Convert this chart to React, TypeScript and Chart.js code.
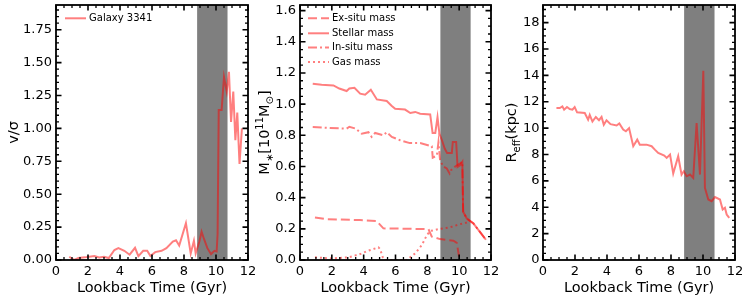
import React, { useEffect, useRef } from "react";
import { Chart, registerables } from "chart.js";
Chart.register(...registerables);

const FONT = "'DejaVu Sans', 'Liberation Sans', sans-serif";
const RED = "rgba(255,0,0,0.5)";

// ---- shared x axis ----
const X_TICKS = [0, 2, 4, 6, 8, 10, 12];
const X_TICK_LABELS = ["0", "2", "4", "6", "8", "10", "12"];
const X_MINOR_STEP = 0.5;
const X_TITLE = "Lookback Time (Gyr)";
const MERGER_BAND = [8.82, 10.72];

// ---- panel 1: v/sigma ----
const VSIG_TIME = [0.83, 1.14, 1.4, 1.8, 2.08, 2.4, 2.7, 3.0, 3.3, 3.65, 3.9, 4.27, 4.6, 4.94, 5.15, 5.45, 5.7, 5.9, 6.2, 6.6, 6.9, 7.3, 7.5, 7.7, 8.12, 8.42, 8.62, 8.73, 8.96, 9.1, 9.25, 9.46, 9.69, 9.9, 10.04, 10.1, 10.17, 10.35, 10.5, 10.67, 10.81, 10.94, 11.08, 11.21, 11.33, 11.47, 11.62];
const VSIG_VALUE = [0.025, 0.0, 0.015, 0.02, 0.025, 0.03, 0.02, 0.025, 0.015, 0.076, 0.09, 0.07, 0.04, 0.093, 0.03, 0.07, 0.07, 0.03, 0.06, 0.07, 0.09, 0.14, 0.15, 0.11, 0.28, 0.05, 0.146, 0.05, 0.14, 0.215, 0.16, 0.09, 0.045, 0.07, 0.065, 0.2, 1.14, 1.14, 1.39, 1.28, 1.43, 1.05, 1.28, 0.91, 1.12, 0.73, 1.0];
const VSIG_TICKS = [0, 0.25, 0.5, 0.75, 1.0, 1.25, 1.5, 1.75];
const VSIG_TICK_LABELS = ["0.00", "0.25", "0.50", "0.75", "1.00", "1.25", "1.50", "1.75"];
const VSIG_MAX = 1.938;
const VSIG_MINOR_STEP = 0.05;

// ---- panel 2: masses ----
const STELLAR_TIME = [0.8, 1.36, 2.1, 2.47, 2.93, 3.1, 3.42, 3.78, 4.09, 4.45, 4.83, 5.45, 5.75, 5.98, 6.6, 6.93, 7.24, 7.55, 8.18, 8.33, 8.5, 8.64, 8.76, 8.92, 9.09, 9.24, 9.54, 9.6, 9.81, 9.9, 10.06, 10.2, 10.25, 10.48, 10.9, 11.68];
const STELLAR_MASS = [1.13, 1.124, 1.12, 1.1, 1.084, 1.1, 1.105, 1.067, 1.06, 1.092, 1.03, 1.02, 0.99, 0.97, 0.965, 0.943, 0.95, 0.939, 0.934, 0.815, 0.815, 0.917, 0.81, 0.768, 0.715, 0.687, 0.687, 0.757, 0.757, 0.597, 0.608, 0.63, 0.31, 0.266, 0.234, 0.13];
const INSITU_TIME = [0.8, 1.89, 2.93, 3.1, 3.5, 3.88, 4.3, 4.5, 4.72, 5.24, 5.45, 5.77, 6.29, 6.9, 7.55, 8.28, 8.34, 8.6, 8.7, 8.8, 9.0, 9.22, 9.4, 9.48, 9.75, 10.06, 10.2, 10.25, 10.48, 10.9, 11.68];
const INSITU_MASS = [0.853, 0.847, 0.843, 0.855, 0.843, 0.81, 0.82, 0.79, 0.815, 0.8, 0.82, 0.79, 0.768, 0.75, 0.75, 0.73, 0.657, 0.67, 0.757, 0.64, 0.6, 0.587, 0.555, 0.576, 0.6, 0.62, 0.63, 0.31, 0.266, 0.234, 0.13];
const EXSITU_TIME = [0.94, 1.68, 3.77, 4.82, 5.24, 8.07, 8.28, 8.8, 9.64, 9.85, 10.03];
const EXSITU_MASS = [0.273, 0.262, 0.256, 0.25, 0.203, 0.198, 0.15, 0.134, 0.124, 0.11, 0.0];
const GAS_TIME = [0.94, 2.0, 3.04, 3.78, 4.3, 4.93, 5.03, 5.2, 5.35, 6.7, 7.24, 7.66, 7.97, 8.18, 8.8, 9.43, 10.06, 10.48, 10.6];
const GAS_MASS = [0.017, 0.01, 0.017, 0.038, 0.06, 0.081, 0.07, 0.017, 0.0, 0.0, 0.043, 0.096, 0.16, 0.186, 0.2, 0.21, 0.23, 0.24, 0.245];
const MASS_TICKS = [0, 0.2, 0.4, 0.6, 0.8, 1.0, 1.2, 1.4, 1.6];
const MASS_TICK_LABELS = ["0.0", "0.2", "0.4", "0.6", "0.8", "1.0", "1.2", "1.4", "1.6"];
const MASS_MAX = 1.636;
const MASS_MINOR_STEP = 0.05;

// ---- panel 3: effective radius ----
const REFF_TIME = [0.84, 1.05, 1.21, 1.32, 1.5, 1.67, 1.84, 1.98, 2.13, 2.61, 2.82, 2.92, 3.09, 3.3, 3.5, 3.66, 3.8, 3.97, 4.22, 4.6, 4.77, 5.01, 5.18, 5.38, 5.64, 5.89, 6.05, 6.47, 6.79, 6.99, 7.2, 7.58, 7.73, 7.94, 8.14, 8.45, 8.66, 8.8, 8.98, 9.19, 9.39, 9.6, 9.81, 10.02, 10.12, 10.33, 10.54, 10.75, 11.06, 11.23, 11.37, 11.48, 11.64];
const REFF_VALUE = [11.53, 11.53, 11.65, 11.4, 11.6, 11.45, 11.4, 11.6, 11.2, 11.15, 10.64, 11.0, 10.5, 10.85, 10.6, 10.85, 10.26, 10.6, 10.3, 10.2, 10.35, 9.89, 9.76, 10.0, 8.63, 9.13, 8.75, 8.75, 8.63, 8.37, 8.12, 7.92, 7.74, 8.0, 6.56, 7.87, 6.48, 6.73, 6.35, 6.48, 6.23, 10.39, 6.48, 14.35, 5.47, 4.59, 4.46, 4.77, 4.59, 3.83, 3.96, 3.45, 3.2];
const REFF_TICKS = [0, 2, 4, 6, 8, 10, 12, 14, 16, 18];
const REFF_TICK_LABELS = ["0", "2", "4", "6", "8", "10", "12", "14", "16", "18"];
const REFF_MAX = 19.34;
const REFF_MINOR_STEP = 0.5;

type Seg = { t: string; size: number; dy: number };
type Series = { label: string; time: number[]; value: number[]; dash: number[] };
type PanelCfg = {
  left: number; right: number;
  yMax: number; yTicks: number[]; yTickLabels: string[]; yMinor: number;
  yTitle: Seg[]; yTitleX: number;
  series: Series[]; legendX: number; legendRows: number[];
  yLabelPad: number;
};

const TITLE_SIZE = 14.5;
const SUB = 10;

const PANELS: PanelCfg[] = [
  {
    left: 56, right: 248, yMax: VSIG_MAX, yTicks: VSIG_TICKS, yTickLabels: VSIG_TICK_LABELS, yMinor: VSIG_MINOR_STEP,
    yTitle: [{ t: "v/σ", size: TITLE_SIZE, dy: 0 }], yTitleX: 13,
    series: [{ label: "Galaxy 3341", time: VSIG_TIME, value: VSIG_VALUE, dash: [] }],
    legendX: 65, legendRows: [18.3], yLabelPad: 4,
  },
  {
    left: 300, right: 491, yMax: MASS_MAX, yTicks: MASS_TICKS, yTickLabels: MASS_TICK_LABELS, yMinor: MASS_MINOR_STEP,
    yTitle: [
      { t: "M", size: TITLE_SIZE, dy: 0 }, { t: "∗", size: SUB, dy: 3.5 }, { t: "[10", size: TITLE_SIZE, dy: 0 },
      { t: "11", size: SUB, dy: -6 }, { t: "M", size: TITLE_SIZE, dy: 0 }, { t: "⊙", size: SUB, dy: 3.5 },
      { t: "]", size: TITLE_SIZE, dy: 0 },
    ], yTitleX: 264,
    series: [
      { label: "Ex-situ mass", time: EXSITU_TIME, value: EXSITU_MASS, dash: [9, 4] },
      { label: "Stellar mass", time: STELLAR_TIME, value: STELLAR_MASS, dash: [] },
      { label: "In-situ mass", time: INSITU_TIME, value: INSITU_MASS, dash: [9, 3, 2, 3] },
      { label: "Gas mass", time: GAS_TIME, value: GAS_MASS, dash: [2, 3] },
    ],
    legendX: 308, legendRows: [18.3, 33.3, 47.6, 62.0], yLabelPad: 4,
  },
  {
    left: 543, right: 735, yMax: REFF_MAX, yTicks: REFF_TICKS, yTickLabels: REFF_TICK_LABELS, yMinor: REFF_MINOR_STEP,
    yTitle: [{ t: "R", size: TITLE_SIZE, dy: 0 }, { t: "eff", size: SUB, dy: 3.5 }, { t: "(kpc)", size: TITLE_SIZE, dy: 0 }],
    yTitleX: 511,
    series: [{ label: "Reff", time: REFF_TIME, value: REFF_VALUE, dash: [] }],
    legendX: 0, legendRows: [], yLabelPad: 3.5,
  },
];

function minorValues(max: number, step: number, majors: number[]) {
  const out: number[] = [];
  const n = Math.floor(max / step + 1e-6);
  for (let i = 0; i <= n; i++) {
    const v = +(i * step).toFixed(6);
    if (!majors.some((m) => Math.abs(m - v) < 1e-6)) out.push(v);
  }
  return out;
}

function drawRich(ctx: CanvasRenderingContext2D, segs: Seg[], cx: number, cy: number) {
  ctx.save();
  ctx.translate(cx, cy);
  ctx.rotate(-Math.PI / 2);
  let total = 0;
  const widths = segs.map((s) => {
    ctx.font = `${s.size}px ${FONT}`;
    const w = ctx.measureText(s.t).width;
    total += w;
    return w;
  });
  let x = -total / 2;
  ctx.fillStyle = "#000";
  ctx.textBaseline = "alphabetic";
  ctx.textAlign = "left";
  const base = TITLE_SIZE * 0.36;
  segs.forEach((s, i) => {
    ctx.font = `${s.size}px ${FONT}`;
    ctx.fillText(s.t, x, base + s.dy);
    x += widths[i];
  });
  ctx.restore();
}

function Panel({ cfg, showLegend }: { cfg: PanelCfg; showLegend: boolean }) {
  const ref = useRef<HTMLCanvasElement>(null);
  useEffect(() => {
    const xMinor = minorValues(12, X_MINOR_STEP, X_TICKS);
    const yMinor = minorValues(cfg.yMax, cfg.yMinor, cfg.yTicks);
    const decor = {
      id: "decor",
      beforeDatasetsDraw(chart: any) {
        const { ctx, chartArea: a, scales } = chart;
        const x0 = scales.x.getPixelForValue(MERGER_BAND[0]);
        const x1 = scales.x.getPixelForValue(MERGER_BAND[1]);
        ctx.save();
        ctx.fillStyle = "rgba(0,0,0,0.5)";
        ctx.fillRect(x0, a.top, x1 - x0, a.bottom - a.top);
        ctx.restore();
      },
      afterDraw(chart: any) {
        const { ctx, chartArea: a, scales } = chart;
        const xs = scales.x, ys = scales.y;
        ctx.save();
        ctx.strokeStyle = "#000";
        const tick = (vals: number[], len: number, w: number) => {
          ctx.lineWidth = w;
          ctx.beginPath();
          vals.forEach((v) => {
            const px = xs.getPixelForValue(v);
            ctx.moveTo(px, a.bottom); ctx.lineTo(px, a.bottom - len);
            ctx.moveTo(px, a.top); ctx.lineTo(px, a.top + len);
          });
          ctx.stroke();
        };
        const tickY = (vals: number[], len: number, w: number) => {
          ctx.lineWidth = w;
          ctx.beginPath();
          vals.forEach((v) => {
            const py = ys.getPixelForValue(v);
            ctx.moveTo(a.left, py); ctx.lineTo(a.left + len, py);
            ctx.moveTo(a.right, py); ctx.lineTo(a.right - len, py);
          });
          ctx.stroke();
        };
        tick(X_TICKS, 5.5, 1.6);
        tick(xMinor, 3, 1.3);
        tickY(cfg.yTicks, 5.5, 1.6);
        tickY(yMinor, 3, 1.3);
        ctx.lineWidth = 1.8;
        ctx.strokeRect(a.left, a.top, a.right - a.left, a.bottom - a.top);
        ctx.fillStyle = "#000";
        ctx.font = `${TITLE_SIZE}px ${FONT}`;
        ctx.textAlign = "center";
        ctx.textBaseline = "alphabetic";
        ctx.fillText(X_TITLE, (a.left + a.right) / 2, 292);
        drawRich(ctx, cfg.yTitle, cfg.yTitleX, (a.top + a.bottom) / 2);
        if (showLegend) {
          chart.data.datasets.forEach((ds: any, i: number) => {
            const y = cfg.legendRows[i];
            ctx.strokeStyle = RED;
            ctx.lineWidth = 2;
            ctx.setLineDash(ds.borderDash || []);
            ctx.beginPath();
            ctx.moveTo(cfg.legendX, y);
            ctx.lineTo(cfg.legendX + 21, y);
            ctx.stroke();
            ctx.setLineDash([]);
            ctx.fillStyle = "#000";
            ctx.font = `10px ${FONT}`;
            ctx.textAlign = "left";
            ctx.textBaseline = "middle";
            ctx.fillText(ds.label, cfg.legendX + 24, y);
          });
        }
        ctx.restore();
      },
    };

    const chart = new Chart(ref.current!, {
      type: "line",
      data: {
        datasets: cfg.series.map((s) => ({
          label: s.label,
          data: s.time.map((t, i) => ({ x: t, y: s.value[i] })),
          borderColor: RED,
          backgroundColor: RED,
          borderWidth: 2,
          borderDash: s.dash,
          pointRadius: 0,
          tension: 0,
          fill: false,
        })),
      },
      options: {
        animation: false,
        responsive: false,
        devicePixelRatio: 1,
        layout: { padding: { left: 0, right: 748 - cfg.right, top: 5, bottom: 0 } },
        plugins: { legend: { display: false }, tooltip: { enabled: false } },
        scales: {
          x: {
            type: "linear",
            min: 0,
            max: 12,
            afterBuildTicks: (s: any) => { s.ticks = X_TICKS.map((v) => ({ value: v })); },
            afterFit: (s: any) => { s.height = 41; s.paddingLeft = 0; s.paddingRight = 0; },
            ticks: {
              callback: (v: any) => X_TICK_LABELS[X_TICKS.indexOf(Number(v))] ?? "",
              font: { family: FONT, size: 13 },
              color: "#000",
              padding: 3.5,
              maxRotation: 0,
              autoSkip: false,
            },
            grid: { display: false, drawTicks: false },
            border: { display: false },
          },
          y: {
            type: "linear",
            min: 0,
            max: cfg.yMax,
            afterBuildTicks: (s: any) => { s.ticks = cfg.yTicks.map((v) => ({ value: v })); },
            afterFit: (s: any) => { s.width = cfg.left; s.paddingTop = 0; s.paddingBottom = 0; },
            ticks: {
              callback: (v: any) => {
                const i = cfg.yTicks.findIndex((m) => Math.abs(m - Number(v)) < 1e-6);
                return i >= 0 ? cfg.yTickLabels[i] : "";
              },
              font: { family: FONT, size: 13 },
              color: "#000",
              padding: cfg.yLabelPad,
              autoSkip: false,
            },
            grid: { display: false, drawTicks: false },
            border: { display: false },
          },
        },
      } as any,
      plugins: [decor],
    });
    return () => chart.destroy();
  }, [cfg, showLegend]);
  return (
    <canvas
      ref={ref}
      width={748}
      height={301}
      style={{ position: "absolute", left: 0, top: 0, width: 748, height: 301 }}
    />
  );
}

export default function App() {
  return (
    <div style={{ position: "fixed", left: 0, top: 0, width: 748, height: 301, background: "#fff", overflow: "hidden" }}>
      <Panel cfg={PANELS[0]} showLegend={true} />
      <Panel cfg={PANELS[1]} showLegend={true} />
      <Panel cfg={PANELS[2]} showLegend={false} />
    </div>
  );
}
